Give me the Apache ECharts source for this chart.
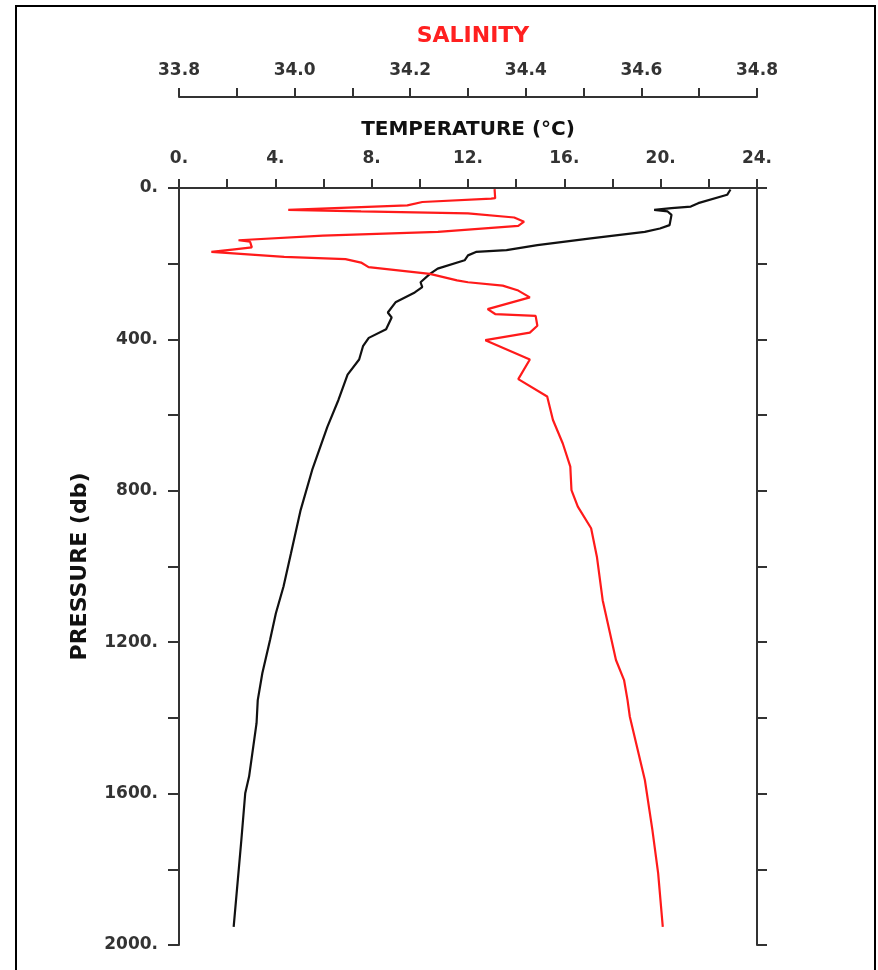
<!DOCTYPE html>
<html><head><meta charset="utf-8">
<script src="https://cdn.jsdelivr.net/npm/echarts@6/dist/echarts.min.js"></script>
<style>html,body{margin:0;padding:0;background:#fff}#c{width:878px;height:970px}</style>
</head><body><div id="c"></div>
<script>
// Temperature profile: pressure (db) and temperature (°C)
const tempPressure = [4,18,40,49,53,58,62,71,98,107,116,133,151,164,169,178,191,213,227,249,262,276,302,329,342,373,396,418,453,493,560,631,745,851,965,1053,1124,1194,1282,1353,1414,1555,1599,1722,1952];
const tempValues   = [22.9,22.76,21.56,21.25,20.45,19.73,20.29,20.45,20.37,19.97,19.34,17.1,14.88,13.6,12.33,12.0,11.86,10.74,10.42,10.03,10.1,9.79,8.99,8.67,8.83,8.6,7.88,7.64,7.48,7.0,6.62,6.16,5.53,5.05,4.65,4.34,4.02,3.78,3.46,3.27,3.22,2.91,2.75,2.59,2.27];
// Salinity profile: pressure (db) and salinity
const salPressure = [3,27,28,37,46,58,62,67,78,89,100,116,126,138,142,157,162,169,182,188,197,209,227,244,249,258,271,289,320,333,338,364,382,402,453,505,551,613,675,736,798,842,899,974,1089,1247,1300,1353,1397,1564,1696,1811,1952];
const salValues   = [34.346,34.347,34.34,34.221,34.195,33.989,34.115,34.30,34.38,34.397,34.387,34.248,34.049,33.903,33.923,33.926,33.896,33.856,33.982,34.088,34.115,34.128,34.234,34.281,34.30,34.36,34.387,34.407,34.334,34.347,34.417,34.42,34.407,34.33,34.407,34.387,34.437,34.447,34.464,34.477,34.479,34.49,34.513,34.523,34.533,34.556,34.57,34.576,34.58,34.606,34.619,34.629,34.637];
// Axis tick labels
const tempTicks = [0,4,8,12,16,20,24];
const salTicks = [33.8,34.0,34.2,34.4,34.6,34.8];
const pressureTicks = [0,400,800,1200,1600,2000];

const FONT = '"DejaVu Sans", sans-serif';
const labelStyle = {color:'#333', fontFamily:FONT, fontWeight:'bold', fontSize:17};
const lineStyle = {color:'#333', width:2};

const chart = echarts.init(document.getElementById('c'), null, {renderer:'canvas'});
chart.setOption({
  animation:false,
  backgroundColor:'#fff',
  graphic:[{type:'rect', shape:{x:16, y:6, width:859, height:980}, style:{fill:'none', stroke:'#000', lineWidth:2}, silent:true, z:-1}],
  grid:{left:179, right:121, top:188, bottom:25, containLabel:false},
  xAxis:[
    {type:'value', position:'top', min:0, max:24, interval:2,
     name:'TEMPERATURE (°C)', nameLocation:'middle', nameGap:48,
     nameTextStyle:{color:'#111', fontFamily:FONT, fontWeight:'bold', fontSize:20},
     axisLine:{show:true, onZero:false, lineStyle:lineStyle},
     axisTick:{show:true, length:9, lineStyle:lineStyle},
     splitLine:{show:false},
     axisLabel:Object.assign({margin:21, formatter:v=>tempTicks.indexOf(v)>=0 ? v+'.' : ''}, labelStyle)},
    {type:'value', position:'top', offset:91, min:33.8, max:34.8, interval:0.1,
     name:'SALINITY', nameLocation:'middle', nameGap:50,
     nameTextStyle:{color:'#ff2020', fontFamily:FONT, fontWeight:'bold', fontSize:22, padding:[0,0,0,10]},
     axisLine:{show:true, onZero:false, lineStyle:lineStyle},
     axisTick:{show:true, length:9, lineStyle:lineStyle},
     splitLine:{show:false},
     axisLabel:Object.assign({margin:18, formatter:v=>{const r=Math.round(v*10)/10; return salTicks.some(t=>Math.abs(t-r)<1e-6) ? r.toFixed(1) : '';}}, labelStyle)}
  ],
  yAxis:[
    {type:'value', position:'left', inverse:true, min:0, max:2000, interval:200,
     name:'PRESSURE (db)', nameLocation:'middle', nameGap:88,
     nameTextStyle:{color:'#111', fontFamily:FONT, fontWeight:'bold', fontSize:22},
     axisLine:{show:true, onZero:false, lineStyle:lineStyle},
     axisTick:{show:true, length:11, lineStyle:lineStyle},
     splitLine:{show:false},
     axisLabel:Object.assign({margin:21, formatter:v=>pressureTicks.indexOf(v)>=0 ? v+'.' : ''}, labelStyle)},
    {type:'value', position:'right', inverse:true, min:0, max:2000, interval:200,
     axisLine:{show:true, onZero:false, lineStyle:lineStyle},
     axisTick:{show:true, length:10, lineStyle:lineStyle},
     splitLine:{show:false},
     axisLabel:{show:false}}
  ],
  series:[
    {type:'line', xAxisIndex:0, yAxisIndex:0, showSymbol:false, symbol:'none',
     data:tempValues.map((t,i)=>[t, tempPressure[i]]),
     lineStyle:{color:'#111', width:2.2}},
    {type:'line', xAxisIndex:1, yAxisIndex:0, showSymbol:false, symbol:'none',
     data:salValues.map((s,i)=>[s, salPressure[i]]),
     lineStyle:{color:'#ff1a1a', width:2.2}}
  ]
});
</script></body></html>
